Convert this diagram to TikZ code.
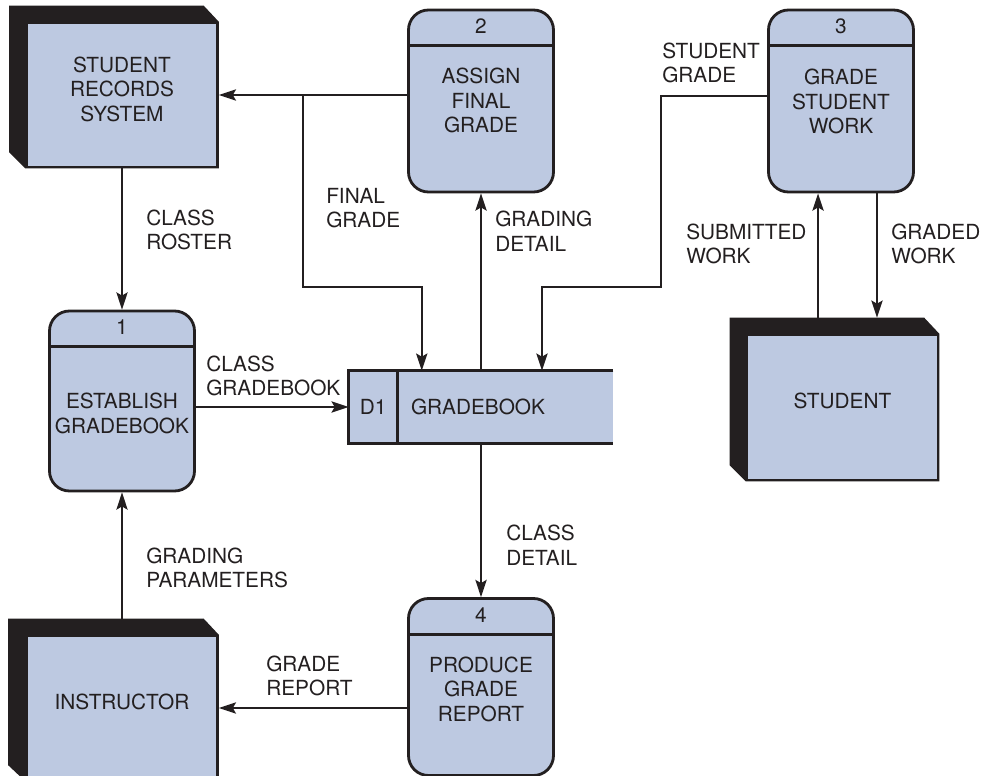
\documentclass[tikz,border=0pt]{standalone}
\usepackage{fontspec}
\setmainfont{TeX Gyre Heros}
\usepackage{xcolor}
\usepackage{tikz}
\usetikzlibrary{positioning, calc, arrows.meta, backgrounds}
\definecolor{boxfill}{HTML}{BDC9E1}
\definecolor{ink}{HTML}{231F20}
\newcommand{\px}{0.25mm}
\newcommand{\dfdfont}{\fontsize{14.8pt}{17.4pt}\selectfont}
\tikzset{
%     shapes
    process/.style={draw=ink, fill=boxfill, line width=2pt, rounded corners=5mm, minimum width=145*\px, minimum height=#1*\px, inner sep=0pt},
    entity/.style={draw=ink, fill=boxfill, line width=1.8pt, minimum width=191*\px, minimum height=#1*\px, inner sep=0pt},
    store/.style={fill=boxfill, minimum width=264*\px, minimum height=72*\px, inner sep=0pt},
    border/.style={draw=ink, line width=2pt},
%     texts
    txt/.style={font=\dfdfont, text=ink, align=center, inner sep=0pt},
    flow/.style={font=\dfdfont, text=ink, align=left, anchor=west, inner sep=0pt},
    arrow/.style={-{Stealth[length=4.3mm, width=2.8mm, inset=0.8mm]}, draw=ink, line width=1.6pt},
}

\begin{document}
\begin{tikzpicture}[x=\px, y=-\px]
        \useasboundingbox (0,0) rectangle (984,776);
        \clip (0,0) rectangle (984,776);
        % External entities
        \node (srs) [entity=144] at (122,95) {};
        \node (srstxt) [txt] at ($(srs)+(0,-6)$) {STUDENT\\RECORDS\\SYSTEM};
        \node (student) [entity=145] at (842.5,407.5) {};
        \node (studenttxt) [txt] at ($(student)+(0,-7)$) {STUDENT};
        \node (instructor) [entity=144] at (122,708) {};
        \node (instructortxt) [txt] at ($(instructor)+(0,-6)$) {INSTRUCTOR};
        \begin{scope}[on background layer]
            \fill[ink] ($(srs.north west)+(-16,-16)$) -- ($(srs.north east)+(-15,-16)$) -- (srs.north east) -- (srs.south east) -- (srs.south west) -- ($(srs.south west)+(-16,-16)$) -- cycle;
            \fill[ink] ($(student.north west)+(-16,-16)$) -- ($(student.north east)+(-15,-16)$) -- (student.north east) -- (student.south east) -- (student.south west) -- ($(student.south west)+(-16,-16)$) -- cycle;
            \fill[ink] ($(instructor.north west)+(-17,-16)$) -- ($(instructor.north east)+(-15,-16)$) -- (instructor.north east) -- (instructor.south east) -- (instructor.south west) -- ($(instructor.south west)+(-17,-16)$) -- cycle;
        \end{scope}
        % Processes
        \node (p1) [process=180] at (122,401) {};
        \draw[border] ($(p1.north west)+(0,37)$) -- ($(p1.north east)+(0,37)$);
        \node (p1num) [txt] at ($(p1.north)+(0,18)$) {1};
        \node (p1txt) [txt] at ($(p1.north)+(0,104)$) {ESTABLISH\\GRADEBOOK};
        \node (p2) [process=182] at (481,101) {};
        \draw[border] ($(p2.north west)+(0,37)$) -- ($(p2.north east)+(0,37)$);
        \node (p2num) [txt] at ($(p2.north)+(0,18)$) {2};
        \node (p2txt) [txt] at ($(p2.north)+(0,92)$) {ASSIGN\\FINAL\\GRADE};
        \node (p3) [process=182] at (841,101) {};
        \draw[border] ($(p3.north west)+(0,37)$) -- ($(p3.north east)+(0,37)$);
        \node (p3num) [txt] at ($(p3.north)+(0,18)$) {3};
        \node (p3txt) [txt] at ($(p3.north)+(0,93)$) {GRADE\\STUDENT\\WORK};
        \node (p4) [process=177] at (481,687) {};
        \draw[border] ($(p4.north west)+(0,37)$) -- ($(p4.north east)+(0,37)$);
        \node (p4num) [txt] at ($(p4.north)+(0,18)$) {4};
        \node (p4txt) [txt] at ($(p4.north)+(0,92)$) {PRODUCE\\GRADE\\REPORT};
        % Data store
        \node (ds) [store] at (481,407) {};
        \draw[border] (ds.north east) -- (ds.north west) -- (ds.south west) -- (ds.south east);
        \draw[border] ($(ds.north west)+(49,0)$) -- ($(ds.south west)+(49,0)$);
        \node (dsid) [txt] at ($(ds.west)+(24.5,0)$) {D1};
        \node (dsname) [txt, anchor=west] at ($(ds.west)+(62,0)$) {GRADEBOOK};
        % Flows
        \coordinate (fgsplit) at ($(srs.east)+(84,0)$);
        \draw[arrow] (srs.south) -- (p1.north);
        \draw[arrow] (p2.west |- srs.east) -- (srs.east);
        \draw[arrow] (fgsplit) |- ($(ds.north west)+(73,-84)$) -- ($(ds.north west)+(73,0)$);
        \draw[arrow] (ds.north) -- (p2.south);
        \draw[arrow] ($(p3.west)+(0,-5)$) -| ($(ds.north)+(180,-84)$) -| ($(ds.north)+(61,0)$);
        \draw[arrow] ($(student.north)+(-24.5,-16)$) -- ($(p3.south)+(-23,0)$);
        \draw[arrow] ($(p3.south)+(36,0)$) -- ($(student.north)+(34.5,-16)$);
        \draw[arrow] (p1.east |- ds.west) -- (ds.west);
        \draw[arrow] (ds.south) -- (p4.north);
        \draw[arrow] ($(instructor.north)+(0,-16)$) -- (p1.south);
        \draw[arrow] (p4.west |- instructor.east) -- (instructor.east);
        % Flow labels
        \node (roster) [flow] at (146,230) {CLASS\\ROSTER};
        \node (finalgrade) [flow] at (326,208) {FINAL\\GRADE};
        \node (gradingdetail) [flow] at (495,231) {GRADING\\DETAIL};
        \node (studentgrade) [flow] at (662,63) {STUDENT\\GRADE};
        \node (submitted) [flow] at (686,244) {SUBMITTED\\WORK};
        \node (graded) [flow] at (891,244) {GRADED\\WORK};
        \node (classgb) [flow] at (206,376) {CLASS\\GRADEBOOK};
        \node (classdetail) [flow] at (506,545) {CLASS\\DETAIL};
        \node (parameters) [flow] at (146,568) {GRADING\\PARAMETERS};
        \node (gradereport) [flow] at (266,676) {GRADE\\REPORT};
\end{tikzpicture}
\end{document}
